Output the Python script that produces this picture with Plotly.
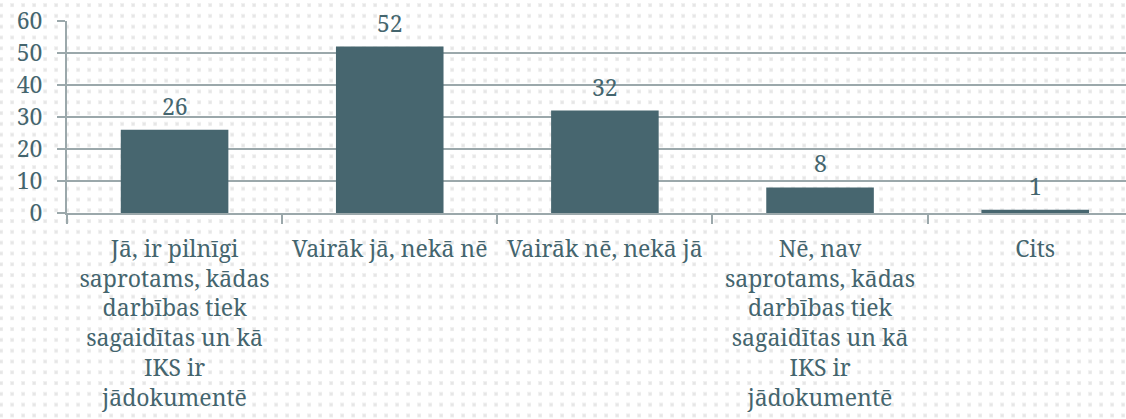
import base64
import plotly.graph_objects as go

categories = [
    "Jā, ir pilnīgi<br>saprotams, kādas<br>darbības tiek<br>sagaidītas un kā<br>IKS ir<br>jādokumentē",
    "Vairāk jā, nekā nē",
    "Vairāk nē, nekā jā",
    "Nē, nav<br>saprotams, kādas<br>darbības tiek<br>sagaidītas un kā<br>IKS ir<br>jādokumentē",
    "Cits",
]
values = [26, 52, 32, 8, 1]
y_ticks = [0, 10, 20, 30, 40, 50, 60]

W, H = 1126, 419
ML, MR, MT, MB = 67, 0, 21, 206

TEXT = "#44656e"
BAR = "#47666f"
GRID = "#9ba8ab"
FONT = "Noto Serif"
FS = 23

# dotted background pattern
svg = (
    f'<svg xmlns="http://www.w3.org/2000/svg" width="{W}" height="{H}">'
    '<defs><pattern id="p" x="-1" y="3" width="11" height="10.8" patternUnits="userSpaceOnUse">'
    '<rect x="0" y="0" width="4" height="4" fill="#f1f1f1"/>'
    '<rect x="1" y="1" width="2.5" height="2.5" fill="#e6e6e6"/>'
    '</pattern></defs>'
    f'<rect width="{W}" height="{H}" fill="#ffffff"/>'
    f'<rect width="{W}" height="{H}" fill="url(#p)"/></svg>'
)
src = "data:image/svg+xml;base64," + base64.b64encode(svg.encode()).decode()
pw = W - ML - MR
ph = H - MT - MB

fig = go.Figure()
fig.add_trace(go.Bar(
    x=categories, y=values, marker=dict(color=BAR, line=dict(width=0)),
    width=0.5, hoverinfo="skip",
))
for c, v in zip(categories, values):
    fig.add_annotation(x=c, y=v, text=str(v), showarrow=False, yanchor="middle",
                       yshift=24, font=dict(family=FONT, size=FS, color=TEXT))

fig.add_layout_image(dict(
    source=src, xref="paper", yref="paper",
    x=-ML / pw, y=1 + MT / ph, sizex=W / pw, sizey=H / ph,
    xanchor="left", yanchor="top", sizing="stretch", layer="below",
))

fig.update_layout(
    width=W, height=H,
    margin=dict(l=ML, r=MR, t=MT, b=MB, pad=0, autoexpand=False),
    paper_bgcolor="white", plot_bgcolor="rgba(0,0,0,0)",
    showlegend=False,
    font=dict(family=FONT, size=FS, color=TEXT),
    xaxis=dict(
        type="category", categoryorder="array", categoryarray=categories,
        range=[-0.5, 4.422], tickson="boundaries", ticks="outside", ticklen=9,
        tickwidth=2, tickcolor=GRID, showline=True, linecolor=GRID, linewidth=2,
        showgrid=False, tickangle=0, ticklabelstandoff=14, automargin=False,
        tickfont=dict(family=FONT, size=FS, color=TEXT),
    ),
    yaxis=dict(
        range=[0, 60], tickmode="array", tickvals=y_ticks,
        ticks="outside", ticklen=8, tickwidth=2, tickcolor=GRID,
        showline=True, linecolor=GRID, linewidth=2, automargin=False,
        showgrid=True, gridcolor=GRID, gridwidth=2, zeroline=False,
        ticklabelstandoff=10, tickfont=dict(family=FONT, size=FS, color=TEXT),
    ),
)

fig.write_html("out.html", config={"displayModeBar": False},
               post_script="document.body.style.margin='0';")
